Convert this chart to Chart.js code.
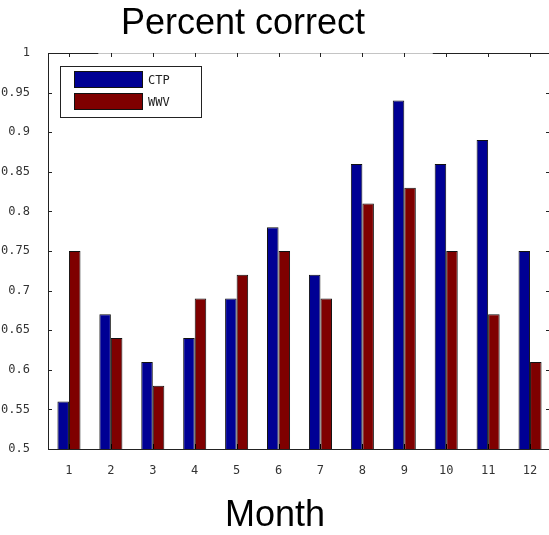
<!DOCTYPE html>
<html>
<head>
<meta charset="utf-8">
<script src="https://cdn.jsdelivr.net/npm/chart.js@4/dist/chart.umd.min.js"></script>
<style>
html,body{margin:0;padding:0;background:#fff;overflow:hidden;}
#wrap{position:absolute;left:0;top:0;width:552px;height:535px;}
</style>
</head>
<body>
<div id="wrap"><canvas id="c"></canvas></div>
<script>
const months = ['1','2','3','4','5','6','7','8','9','10','11','12'];
const ctpValues = [0.56, 0.67, 0.61, 0.64, 0.69, 0.78, 0.72, 0.86, 0.94, 0.86, 0.89, 0.75];
const wwvValues = [0.75, 0.64, 0.58, 0.69, 0.72, 0.75, 0.69, 0.81, 0.83, 0.75, 0.67, 0.61];
const yTicks = [0.5, 0.55, 0.6, 0.65, 0.7, 0.75, 0.8, 0.85, 0.9, 0.95, 1];
const seriesNames = ['CTP', 'WWV'];

const BLUE = '#000094';
const RED = '#7f0000';
const INK = '#222';
const tickFont = {family: 'DejaVu Sans Mono', size: 12};

const framePlugin = {
  id: 'frame',
  afterLayout(chart) {
    const tb = chart.titleBlock;
    if (tb) { tb.left = 0; tb.right = 486; tb.width = 486; }
    chart.boxes.forEach(b => {
      if (b.options && b.options.text === 'Month') { b.left = 0; b.right = 550; b.width = 550; }
    });
  },
  afterDatasetsDraw(chart) {
    const ctx = chart.ctx;
    const a = chart.chartArea;
    const xs = chart.scales.x, ys = chart.scales.y;
    ctx.save();
    ctx.lineWidth = 1;
    // top border (light with darker ends)
    const ty = Math.round(a.top) + 0.5;
    ctx.strokeStyle = '#c4c4c4';
    ctx.beginPath(); ctx.moveTo(a.left, ty); ctx.lineTo(a.right, ty); ctx.stroke();
    ctx.strokeStyle = INK;
    const w = a.right - a.left;
    ctx.beginPath(); ctx.moveTo(a.left, ty); ctx.lineTo(a.left + w * 0.1, ty); ctx.stroke();
    ctx.beginPath(); ctx.moveTo(a.left + w * 0.765, ty); ctx.lineTo(a.right, ty); ctx.stroke();
    // y ticks (inward, both sides)
    ctx.strokeStyle = INK;
    yTicks.forEach(v => {
      const y = Math.round(ys.getPixelForValue(v)) + 0.5;
      ctx.beginPath(); ctx.moveTo(a.left, y); ctx.lineTo(a.left + 4, y); ctx.stroke();
      ctx.beginPath(); ctx.moveTo(a.right - 5, y); ctx.lineTo(a.right, y); ctx.stroke();
    });
    // x ticks (inward, top and bottom)
    months.forEach((m, i) => {
      const x = Math.round(xs.getPixelForValue(i)) + 0.5;
      ctx.strokeStyle = '#000';
      ctx.beginPath(); ctx.moveTo(x, a.bottom); ctx.lineTo(x, a.bottom - 5); ctx.stroke();
      ctx.strokeStyle = INK;
      ctx.beginPath(); ctx.moveTo(x, a.top); ctx.lineTo(x, a.top + 4); ctx.stroke();
    });
    // legend
    const lx = a.left + 12, ly = a.top + 13, lw = 141, lh = 51;
    ctx.fillStyle = '#fff';
    ctx.fillRect(lx, ly, lw, lh);
    ctx.strokeStyle = INK;
    ctx.strokeRect(lx + 0.5, ly + 0.5, lw, lh);
    chart.data.datasets.forEach((ds, i) => {
      const sx = lx + 14, sy = ly + 5 + i * 22, sw = 69, sh = 17;
      ctx.fillStyle = ds.backgroundColor;
      ctx.fillRect(sx, sy, sw, sh);
      ctx.strokeStyle = '#111';
      ctx.strokeRect(sx + 0.5, sy + 0.5, sw - 1, sh - 1);
      ctx.fillStyle = INK;
      ctx.font = '12px "DejaVu Sans Mono"';
      ctx.textBaseline = 'middle';
      ctx.textAlign = 'left';
      ctx.fillText(ds.label, sx + sw + 5, sy + sh / 2 + 1);
    });
    ctx.restore();
  }
};

new Chart(document.getElementById('c'), {
  type: 'bar',
  data: {
    labels: months,
    datasets: [
      {label: seriesNames[0], data: ctpValues, backgroundColor: BLUE, borderColor: '#111', borderWidth: 1, borderSkipped: false},
      {label: seriesNames[1], data: wwvValues, backgroundColor: RED, borderColor: '#111', borderWidth: 1, borderSkipped: false}
    ]
  },
  options: {
    responsive: true,
    maintainAspectRatio: false,
    animation: false,
    layout: {padding: {left: 0, right: 1, top: 0, bottom: 0}},
    datasets: {bar: {categoryPercentage: 0.55, barPercentage: 1.0}},
    plugins: {
      legend: {display: false},
      tooltip: {enabled: false},
      title: {
        display: true,
        text: 'Percent correct',
        color: '#000',
        font: {family: 'Liberation Sans', size: 36, weight: 'normal', lineHeight: 1},
        padding: {top: 6, bottom: 11}
      },
      subtitle: {
        display: true,
        position: 'bottom',
        text: 'Month',
        color: '#000',
        font: {family: 'Liberation Sans', size: 36, weight: 'normal', lineHeight: 1},
        padding: {top: 0, bottom: 1}
      }
    },
    scales: {
      x: {
        type: 'category',
        offset: true,
        grid: {display: false},
        border: {display: true, color: INK, width: 1},
        ticks: {color: '#333', font: tickFont, padding: 7, maxRotation: 0, autoSkip: false},
        afterFit(scale) { scale.height = 49; }
      },
      y: {
        min: 0.5,
        max: 1,
        grid: {display: false},
        border: {display: true, color: INK, width: 1},
        ticks: {
          color: '#333', font: tickFont, padding: 10,
          callback: (v) => String(parseFloat(Number(v).toFixed(2)))
        },
        afterBuildTicks(scale) { scale.ticks = yTicks.map(v => ({value: v})); },
        afterFit(scale) { scale.width = 48; }
      }
    }
  },
  plugins: [framePlugin]
});
</script>
</body>
</html>
